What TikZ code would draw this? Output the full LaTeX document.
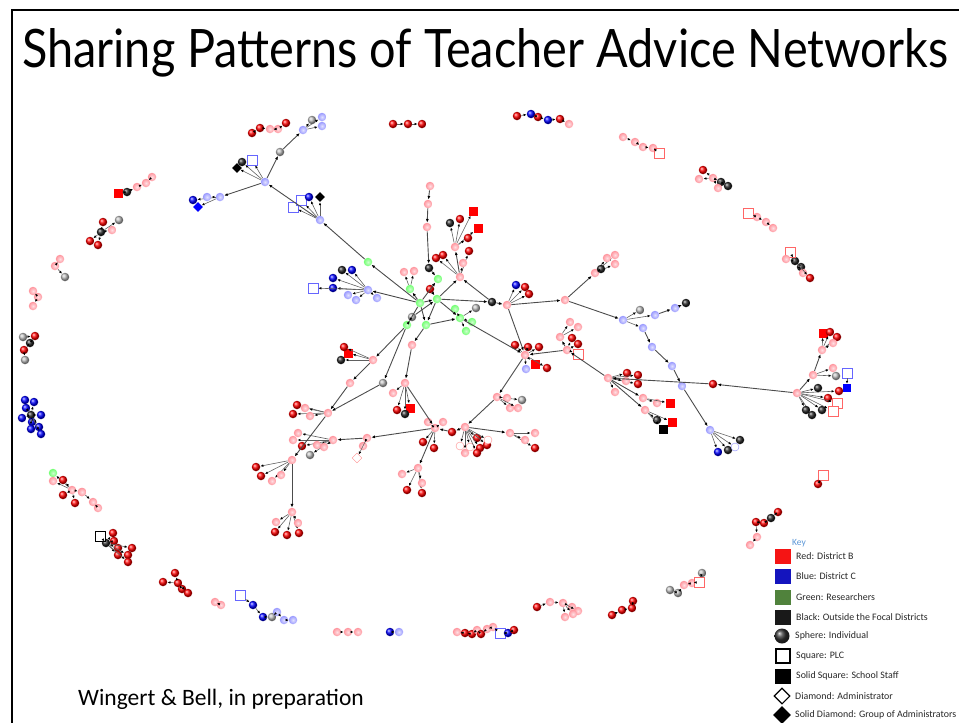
\documentclass[tikz,border=0pt]{standalone}
\usepackage{fontspec}
\setmainfont{Carlito}
\newfontfamily\titlefont{Lato}
\usepackage{graphicx}
\usetikzlibrary{arrows.meta,shapes.geometric}
\definecolor{keyblue}{RGB}{90,150,215}
\definecolor{keygreen}{RGB}{80,130,60}
\definecolor{keyred}{RGB}{245,20,20}
\definecolor{keybl}{RGB}{20,20,190}
\definecolor{softpink}{RGB}{255,175,185}
\definecolor{softlav}{RGB}{180,180,255}
\tikzset{
    balsty/.style={circle,inner sep=0pt,minimum size=8.5pt},
    rdsty/.style={balsty,ball color=red},
    pksty/.style={balsty,shading=radial,inner color=softpink!40,outer color=softpink!85!red},
    blsty/.style={balsty,ball color=blue},
    lvsty/.style={balsty,shading=radial,inner color=softlav!40,outer color=softlav!85!blue},
    gnsty/.style={balsty,shading=radial,inner color=green!20,outer color=green!55},
    bksty/.style={balsty,ball color=black!85},
    gysty/.style={balsty,ball color=gray!55},
    ocsty/.style={circle,draw=red!45,fill=white,inner sep=0pt,minimum size=8pt},
    ocbsty/.style={circle,draw=blue!45,fill=white,inner sep=0pt,minimum size=8pt},
    plcsty/.style={rectangle,draw,fill=white,inner sep=0pt,minimum size=10pt,line width=0.7pt},
    prsty/.style={plcsty,draw=red!60},
    pbsty/.style={plcsty,draw=blue!60},
    sqrsty/.style={rectangle,fill=red,inner sep=0pt,minimum size=9pt},
    sqksty/.style={rectangle,fill=black,inner sep=0pt,minimum size=9pt},
    sqbsty/.style={rectangle,fill=blue,inner sep=0pt,minimum size=8pt},
    dmsty/.style={diamond,draw=red!45,fill=white,inner sep=0pt,minimum size=10pt},
    dksty/.style={diamond,fill=black,inner sep=0pt,minimum size=10pt},
    dbsty/.style={diamond,fill=blue,inner sep=0pt,minimum size=10pt},
    edsty/.style={draw=gray!75!black,line width=0.6pt,-{Latex[length=3pt,width=2.6pt,black]}},
    trsty/.style={draw=gray!60!black,line width=0.9pt,-{Latex[length=3.6pt,width=3pt,black]}},
    keysty/.style={rectangle,inner sep=0pt,minimum width=16pt,minimum height=15pt},
    keytxtsty/.style={anchor=west,inner sep=0pt,text=black!85,font=\fontsize{9.9}{11}\selectfont},
}
% hub with leaves: style/x/y/name
\newcommand{\fanout}[2]{%
  \foreach \s/\px/\py/\k in {#2}{%
    \node[\s] (#1-\k) at (\px,\py) {};
    \draw[edsty] (#1) -- (#1-\k);
  }}
% small chain of nodes: style/x/y
\newcommand{\chainof}[2]{%
  \foreach \s/\px/\py [count=\i] in {#2}{%
    \node[\s] (#1-\i) at (\px,\py) {};
    \ifnum\i>1 \pgfmathtruncatemacro\j{\i-1}%
      \draw[edsty] (#1-\j) -- (#1-\i);\fi
  }}

\begin{document}
\begin{tikzpicture}[x=1pt,y=-1pt]
  \useasboundingbox (0,0) rectangle (959,723);
  \draw[line width=1.6pt] (12,723) -- (12,10) -- (959,10);
  \node[anchor=base west,inner sep=0pt] (title) at (22,67)
    {\resizebox{926pt}{39pt}{\titlefont Sharing Patterns of Teacher Advice Networks}};

  % researchers in the middle
  \node[gnsty] (gc) at (420,303) {};
  \node[gnsty] (g2) at (437,299) {};
  \node[gnsty] (g3) at (438,279) {};
  \node[gnsty] (g4) at (410,289) {};
  \node[gnsty] (g6) at (407,325) {};
  \node[gnsty] (g7) at (426,325) {};
  \node[gysty] (g8) at (412,317) {};
  \node[gnsty] (gh) at (460,318) {};
  \node[gnsty] (g14) at (368,262) {};
  \fanout{gh}{gnsty/472/322/a, gnsty/466/331/b, gysty/476/308/c, gnsty/455/309/d}
  \fanout{g4}{pksty/404/272/a, pksty/414/271/b}

  % upper branch
  \node[pksty] (t1) at (430,186) {};
  \node[pksty] (t2) at (428,204) {};
  \node[pksty] (t3) at (427,227) {};
  \node[bksty] (t4) at (429,268) {};
  \node[rdsty] (t5) at (430,289) {};
  \node[pksty] (uf) at (460,277) {};
  \node[pksty] (uf2) at (455,247) {};
  \fanout{uf2}{bksty/450/223/a, rdsty/460/219/b, sqrsty/473/211/c, sqrsty/478/228/d, rdsty/468/238/e}
  \fanout{uf}{rdsty/443/255/a, rdsty/436/258/b, rdsty/469/251/c, pksty/463/263/d}
  \node[bksty] (bk1) at (492,302) {};
  \node[pksty] (rh) at (507,305) {};
  \fanout{rh}{blsty/516/285/a, rdsty/525/287/b, rdsty/529/294/c}

  % district C group on the left
  \node[lvsty] (lb) at (368,290) {};
  \fanout{lb}{blsty/333/278/a, blsty/333/288/b, bksty/342/270/c, blsty/352/270/d,
    lvsty/348/295/e, lvsty/356/300/f, lvsty/377/298/g, pbsty/313/288/h}
  \node[lvsty] (tl2) at (320,220) {};
  \fanout{tl2}{pbsty/293/207/a, pbsty/301/200/b, blsty/309/197/c, dksty/320/197/d}
  \node[lvsty] (tl1) at (265,182) {};
  \fanout{tl1}{bksty/242/162/a, dksty/237/168/b, pbsty/252/160/c}
  \node[gysty] (tgy) at (280,152) {};
  \node[lvsty] (tlv) at (303,130) {};
  \fanout{tlv}{gysty/312/120/a, lvsty/322/117/b, lvsty/322/126/c}
  \node[lvsty] (ll) at (220,197) {};
  \fanout{ll}{blsty/193/200/a, dbsty/198/207/b, lvsty/207/197/c}

  % right side
  \node[pksty] (mh) at (565,300) {};
  \node[pksty] (mu) at (595,273) {};
  \fanout{mu}{pksty/615/255/a, pksty/615/264/b, pksty/607/258/c, bksty/601/269/d}
  \node[lvsty] (lv1) at (623,320) {};
  \fanout{lv1}{gysty/640/310/a, lvsty/655/315/b, lvsty/643/328/c}
  \node[lvsty] (lv2) at (675,308) {};
  \node[bksty] (lv3) at (686,303) {};
  \node[lvsty] (lv4) at (652,347) {};
  \node[lvsty] (lv5) at (672,366) {};
  \node[lvsty] (lv6) at (682,386) {};
  \node[lvsty] (lvh) at (710,430) {};
  \fanout{lvh}{blsty/718/452/a, bksty/728/450/b, bksty/740/440/c, ocbsty/735/447/d}

  \node[pksty] (rf) at (608,378) {};
  \fanout{rf}{rdsty/627/373/a, rdsty/638/375/b, rdsty/638/384/c, pksty/615/392/d, pksty/626/381/e}
  \node[pksty] (rf1) at (643,398) {};
  \fanout{rf1}{pksty/657/403/a, sqrsty/670/403/b}
  \node[pksty] (rf2) at (645,410) {};
  \fanout{rf2}{bksty/657/420/a, sqrsty/672/422/b, sqksty/663/429/c}
  \node[rdsty] (rm) at (713,384) {};

  \node[pksty] (rr) at (797,393) {};
  \fanout{rr}{bksty/812/415/a, bksty/822/410/b, bksty/806/410/c, rdsty/828/398/d,
    rdsty/839/391/e, prsty/837/403/f, prsty/833/411/g, bksty/818/388/h}
  \node[pksty] (rs) at (813,375) {};
  \fanout{rs}{pksty/833/368/a, gysty/836/376/b}
  \node[pksty] (rt) at (822,350) {};
  \fanout{rt}{sqrsty/823/333/a, rdsty/830/332/b, rdsty/837/337/c, pksty/833/343/d}
  \chainof{rb}{pbsty/847/373, sqbsty/847/388}

  % lower middle
  \node[pksty] (lc) at (525,355) {};
  \fanout{lc}{rdsty/515/345/a, rdsty/528/347/b, rdsty/539/347/c, sqrsty/535/364/d,
    rdsty/547/368/e, lvsty/526/369/f}
  \node[pksty] (ls) at (567,350) {};
  \fanout{ls}{rdsty/572/338/a, rdsty/578/344/b, prsty/578/354/c}
  \node[pksty] (ls2) at (560,337) {};
  \fanout{ls2}{pksty/570/322/a, pksty/578/327/b}
  \node[pksty] (pf) at (497,397) {};
  \fanout{pf}{gysty/522/400/a, pksty/507/398/b, pksty/510/408/c, pksty/518/408/d}
  \node[pksty] (hf) at (465,427) {};
  \fanout{hf}{rdsty/477/438/a, rdsty/487/445/b, rdsty/480/448/c, ocsty/470/447/d,
    ocsty/460/446/e, pksty/465/453/f, rdsty/477/453/g, ocsty/488/440/h}
  \node[pksty] (hr) at (510,433) {};
  \fanout{hr}{pksty/535/433/a, rdsty/535/448/b, pksty/525/440/c}
  \node[rdsty] (cr) at (452,432) {};
  \node[pksty] (cf) at (435,428) {};
  \fanout{cf}{pksty/428/422/a, pksty/443/422/b, rdsty/423/442/c, rdsty/434/448/d}
  \node[pksty] (cd) at (418,468) {};
  \fanout{cd}{rdsty/407/490/a, rdsty/422/493/b, pksty/422/483/c, pksty/402/474/d}
  \node[pksty] (lz) at (412,345) {};
  \node[pksty] (lh) at (405,383) {};
  \fanout{lh}{rdsty/397/410/a, sqrsty/410/408/b, bksty/405/414/c, pksty/393/393/d}
  \node[pksty] (lm) at (367,438) {};
  \fanout{lm}{pksty/363/446/a, dmsty/357/458/b}
  \node[pksty] (lf) at (333,440) {};
  \fanout{lf}{pksty/293/440/a, pksty/298/433/b, rdsty/302/446/c, gysty/310/455/d,
    pksty/317/445/e, pksty/324/447/f}
  \node[pksty] (lq) at (373,360) {};
  \fanout{lq}{sqrsty/348/353/a, rdsty/344/347/b, bksty/341/360/c}
  \node[pksty] (lp) at (350,383) {};
  \node[gysty] (lg) at (383,383) {};
  \node[pksty] (lr) at (328,413) {};
  \fanout{lr}{rdsty/297/405/a, rdsty/293/414/b, pksty/305/408/c, pksty/310/416/d}
  \node[pksty] (ldn) at (292,460) {};
  \fanout{ldn}{rdsty/256/467/a, rdsty/261/476/b, pksty/272/481/c, pksty/281/475/d}
  \node[pksty] (lbt) at (292,512) {};
  \fanout{lbt}{rdsty/275/532/a, rdsty/287/535/b, rdsty/299/533/c, pksty/276/522/d, pksty/298/523/e}

  \foreach \a/\b in {gc/g2, gc/g3, gc/g4, gc/g6, gc/g7, g2/g7, g7/gh, g2/gh, g6/g8, g8/g2,
      t1/t2, t2/t3, t3/t4, t4/g3, t5/g2, g2/uf, uf/uf2, bk1/uf, g2/bk1, bk1/rh,
      gc/lb, gc/g14, g14/tl2, tl2/tl1, tl1/tgy, tgy/tlv, tl1/ll,
      rh/mh, mh/mu, mh/lv1, lv1-b/lv2, lv2/lv3, lv1-c/lv4, lv4/lv5, lv5/lv6, lv6/lvh,
      rh/lc, gh/lc, rr/rm, rm/rf, rf/ls, ls/lc, ls/ls2, rf/rf1, rf/rf2,
      rr/rs, rs/rt, lc/pf, pf/hf, hf/cr, cr/cf, cf/cd, hf/hr, cf/lm, lm/lf,
      g6/lq, lq/lp, lp/lr, g6/lg, lg/lr, lr/ldn, ldn/lbt, g7/lz, lz/lh, lh/cf}
    \draw[trsty] (\a) -- (\b);

  % isolated groups around the edge
  \chainof{ca}{rdsty/252/133, rdsty/260/128, pksty/270/129, pksty/278/129, rdsty/286/123}
  \chainof{cb}{rdsty/393/124, rdsty/408/124, rdsty/422/124}
  \chainof{cc}{rdsty/517/116, blsty/531/114, rdsty/538/117, blsty/548/120, rdsty/560/119, pksty/569/124}
  \chainof{cd}{pksty/623/137, pksty/635/142, pksty/643/147, pksty/653/148, prsty/659/153}
  \node[pksty] (ce) at (713,178) {};
  \fanout{ce}{rdsty/703/170/a, pksty/699/179/b, bksty/721/182/c, bksty/728/186/d, pksty/718/188/e}
  \chainof{cf}{prsty/748/213, pksty/757/217, pksty/766/222, pksty/773/228}
  \node[bksty] (cg) at (795,261) {};
  \fanout{cg}{prsty/790/252/a, pksty/786/259/b, bksty/801/267/c, pksty/803/273/d, rdsty/810/278/e}
  \chainof{ch}{prsty/823/475, rdsty/818/484}
  \chainof{ci}{rdsty/778/512, bksty/771/518, rdsty/764/523, rdsty/756/522, pksty/757/537, pksty/750/545}
  \chainof{cj}{sqrsty/118/193, bksty/127/192, pksty/137/187, pksty/146/183, pksty/152/177}
  \node[bksty] (ck) at (101,232) {};
  \fanout{ck}{rdsty/103/222/a, rdsty/90/241/b, rdsty/98/245/c, pksty/112/230/d, gysty/119/220/e}
  \chainof{cl}{pksty/60/259, pksty/55/266, gysty/65/277}
  \chainof{cm}{pksty/33/291, pksty/38/297, pksty/33/306}
  \chainof{cn}{gysty/23/337, rdsty/35/336, bksty/30/343, rdsty/24/350, gysty/25/360}
  \node[bksty] (co) at (31,415) {};
  \fanout{co}{blsty/25/400/a, blsty/34/402/b, blsty/26/408/c, blsty/41/415/d, blsty/22/418/e,
    blsty/32/422/f, blsty/39/427/g, blsty/41/434/h, blsty/31/429/i}
  \node[pksty] (cp) at (72,490) {};
  \fanout{cp}{gnsty/53/473/a, rdsty/63/480/b, pksty/53/481/c, rdsty/63/495/d, rdsty/75/503/e, pksty/82/492/f}
  \chainof{cq}{pksty/82/492, pksty/93/502, pksty/98/508}
  \node[bksty] (cr) at (106,543) {};
  \fanout{cr}{plcsty/100/536/a, rdsty/113/533/b, rdsty/114/541/c, rdsty/118/548/d, rdsty/132/548/e,
    rdsty/118/555/f, rdsty/128/555/g, rdsty/128/562/h}
  \node[rdsty] (cs) at (178,583) {};
  \fanout{cs}{rdsty/163/582/a, rdsty/175/573/b, rdsty/182/589/c, rdsty/188/593/d}
  \chainof{ct}{pksty/215/602, pksty/221/605}
  \chainof{cu}{pbsty/240/595, blsty/253/605, blsty/263/617, gysty/272/617, lvsty/277/612, lvsty/284/620, lvsty/293/620}
  \chainof{cv}{pksty/337/632, pksty/348/632, pksty/358/632}
  \chainof{cw}{blsty/390/632, lvsty/399/632}
  \chainof{cx}{pksty/457/632, rdsty/465/633, rdsty/472/634, pksty/477/630, rdsty/481/634, pksty/487/629,
    pksty/493/627, pbsty/500/633, blsty/508/633, rdsty/514/630}
  \chainof{cy}{rdsty/537/607, pksty/550/602, pksty/563/603}
  \fanout{cy-3}{pksty/572/607/a, pksty/578/611/b, pksty/565/617/c, pksty/573/614/d}
  \chainof{cz}{rdsty/612/615, rdsty/622/610, rdsty/632/608, rdsty/633/601}
  \chainof{dz}{gysty/670/590, gysty/678/593, pksty/684/585, pksty/692/583, prsty/699/582, gysty/702/573}

  % key
  \node[anchor=west,inner sep=0pt,text=keyblue,font=\fontsize{9.5}{11}\selectfont] (keyhead) at (792,543) {Key};
  \node[keysty,fill=keyred] (key1) at (783,556) {};
  \node[keysty,fill=keybl] (key2) at (783,576) {};
  \node[keysty,fill=keygreen] (key3) at (783,597) {};
  \node[keysty,fill=black!90] (key4) at (783,617) {};
  \node[circle,inner sep=0pt,minimum size=15pt,ball color=black!80] (key5) at (782,636) {};
  \node[keysty,draw,line width=1.2pt,minimum width=14pt,minimum height=14pt] (key6) at (783,656) {};
  \node[keysty,fill=black] (key7) at (783,676) {};
  \node[diamond,draw,line width=1.1pt,inner sep=0pt,minimum size=16pt] (key8) at (782,696) {};
  \node[diamond,fill=black,inner sep=0pt,minimum size=18pt] (key9) at (782,715) {};
  \foreach \n/\t in {1/Red: District B, 2/Blue: District C, 3/Green: Researchers,
      4/Black: Outside the Focal Districts, 5/Sphere: Individual, 6/Square: PLC,
      7/Solid Square: School Staff, 8/Diamond: Administrator, 9/Solid Diamond: Group of Administrators}
    \node[keytxtsty] (keytxt\n) at ([xshift=13pt]key\n.center) {\t};

  \node[anchor=base west,inner sep=0pt] (cite) at (78,705) {\fontsize{23.5}{28}\selectfont Wingert \& Bell, in preparation};
\end{tikzpicture}
\end{document}
